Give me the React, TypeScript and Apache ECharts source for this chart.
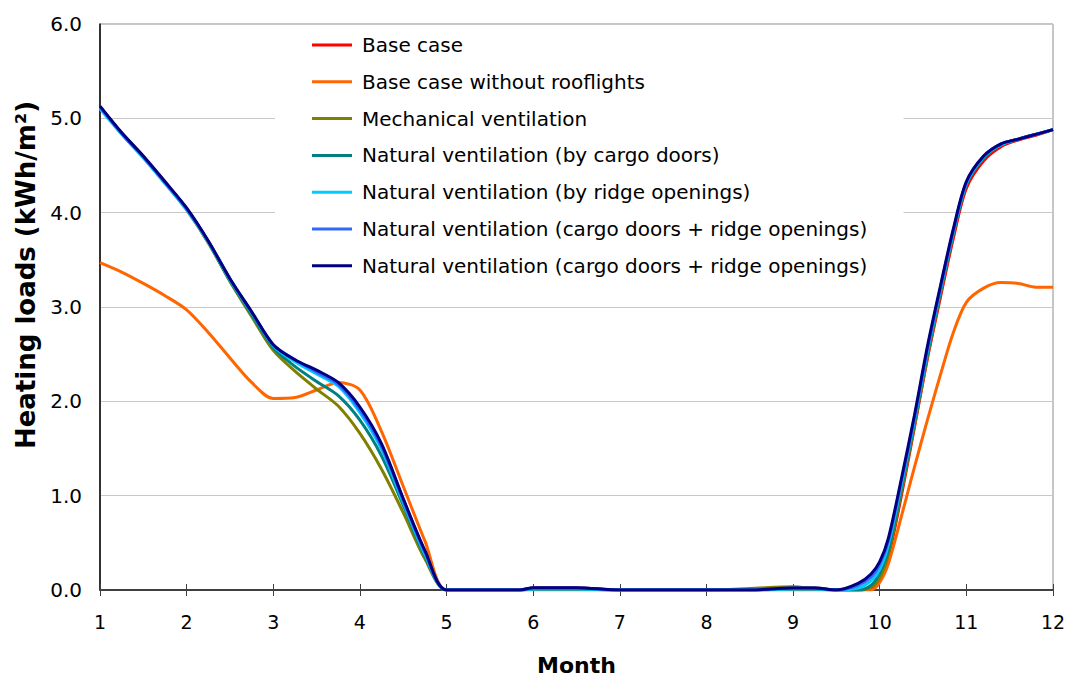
import React, { useEffect, useRef } from "react";
import * as echarts from "echarts";

const MONTHS = [1, 1.25, 1.5, 1.75, 2, 2.25, 2.5, 2.75, 3, 3.25, 3.5, 3.75, 4, 4.25, 4.5, 4.75, 5,
  5.5, 5.85, 6, 6.5, 7, 7.5, 8, 8.5, 9, 9.25, 9.5,
  9.75, 9.9, 10, 10.1, 10.25, 10.4, 10.55, 10.7, 10.85, 11, 11.2, 11.4, 11.6, 11.8, 12];

const BASE_CASE = [5.12, 4.84, 4.59, 4.32, 4.04, 3.69, 3.29, 2.94, 2.59, 2.43, 2.32, 2.19, 1.92, 1.53, 0.96, 0.41, 0,
  0, 0, 0.02, 0.02, 0, 0, 0, 0, 0.02, 0.02, 0,
  0, 0.02, 0.1, 0.35, 1.0, 1.72, 2.45, 3.1, 3.73, 4.26, 4.55, 4.7, 4.77, 4.82, 4.88];

const NO_ROOFLIGHTS = [3.47, 3.37, 3.25, 3.12, 2.97, 2.73, 2.46, 2.2, 2.03, 2.04, 2.12, 2.2, 2.12, 1.68, 1.1, 0.52, 0,
  0, 0, 0, 0, 0, 0, 0, 0, 0, 0, 0,
  0, 0, 0.08, 0.28, 0.78, 1.3, 1.8, 2.28, 2.73, 3.05, 3.2, 3.26, 3.25, 3.21, 3.21];

const MECHANICAL = [5.12, 4.84, 4.59, 4.32, 4.03, 3.68, 3.27, 2.9, 2.54, 2.32, 2.13, 1.95, 1.66, 1.28, 0.82, 0.33, 0,
  0, 0, 0.01, 0.01, 0, 0, 0, 0.015, 0.035, 0.015, 0,
  0, 0.03, 0.13, 0.38, 1.04, 1.74, 2.47, 3.14, 3.77, 4.3, 4.58, 4.72, 4.78, 4.83, 4.88];

const NV_CARGO = [5.12, 4.84, 4.59, 4.32, 4.04, 3.69, 3.28, 2.92, 2.57, 2.37, 2.21, 2.06, 1.8, 1.42, 0.9, 0.36, 0,
  0, 0, 0.01, 0.01, 0, 0, 0, 0, 0.01, 0.01, 0,
  0, 0.05, 0.18, 0.42, 1.08, 1.77, 2.5, 3.16, 3.78, 4.3, 4.58, 4.72, 4.78, 4.83, 4.88];

const NV_RIDGE = [5.1, 4.83, 4.58, 4.31, 4.03, 3.69, 3.29, 2.94, 2.59, 2.42, 2.29, 2.16, 1.88, 1.49, 0.93, 0.38, 0,
  0, 0, 0.01, 0.01, 0, 0, 0, 0, 0.01, 0.01, 0,
  0.02, 0.1, 0.22, 0.48, 1.12, 1.8, 2.53, 3.18, 3.8, 4.31, 4.59, 4.72, 4.78, 4.83, 4.88];

const NV_BOTH_A = [5.12, 4.84, 4.59, 4.32, 4.04, 3.7, 3.3, 2.95, 2.6, 2.44, 2.31, 2.18, 1.91, 1.52, 0.95, 0.4, 0,
  0, 0, 0.02, 0.02, 0, 0, 0, 0, 0.02, 0.02, 0,
  0.05, 0.14, 0.27, 0.52, 1.15, 1.82, 2.55, 3.2, 3.81, 4.32, 4.6, 4.73, 4.78, 4.83, 4.88];

const NV_BOTH_B = [5.13, 4.85, 4.6, 4.33, 4.05, 3.7, 3.3, 2.95, 2.6, 2.44, 2.33, 2.2, 1.94, 1.55, 0.97, 0.42, 0,
  0, 0, 0.025, 0.025, 0, 0, 0, 0, 0.02, 0.02, 0,
  0.07, 0.17, 0.3, 0.55, 1.18, 1.85, 2.58, 3.22, 3.83, 4.33, 4.6, 4.73, 4.78, 4.83, 4.88];

const SERIES = [
  { name: "Base case", color: "#FF0000", values: BASE_CASE },
  { name: "Base case without rooflights", color: "#FF6600", values: NO_ROOFLIGHTS },
  { name: "Mechanical ventilation", color: "#808000", values: MECHANICAL },
  { name: "Natural ventilation (by cargo doors)", color: "#008080", values: NV_CARGO },
  { name: "Natural ventilation (by ridge openings)", color: "#00CCFF", values: NV_RIDGE },
  { name: "Natural ventilation (cargo doors + ridge openings)", color: "#3366FF", values: NV_BOTH_A },
  { name: "Natural ventilation (cargo doors + ridge openings) ", color: "#000080", values: NV_BOTH_B },
];

const Y_TICKS = [0, 1, 2, 3, 4, 5, 6];
const X_TICKS = [1, 2, 3, 4, 5, 6, 7, 8, 9, 10, 11, 12];

const FONT = "'DejaVu Sans', sans-serif";

export default function App() {
  const ref = useRef<HTMLDivElement>(null);
  useEffect(() => {
    if (!ref.current) return;
    const chart = echarts.init(ref.current, undefined, { renderer: "svg" });
    const series = SERIES.map((s) => ({
      name: s.name,
      type: "line",
      xAxisIndex: 0,
      data: MONTHS.map((m, i) => [m, s.values[i]]),
      smooth: 0.3,
      showSymbol: false,
      symbol: "none",
      lineStyle: { color: s.color, width: 3 },
      itemStyle: { color: s.color },
      z: 3,
    }));
    chart.setOption({
      animation: false,
      backgroundColor: "#ffffff",
      textStyle: { fontFamily: FONT },
      grid: {
        left: 100, right: 18, top: 24, bottom: 92,
        show: true, borderColor: "#8c8c8c", borderWidth: 1, backgroundColor: "transparent",
      },
      legend: {
        orient: "vertical",
        left: 275,
        top: 25,
        padding: [10, 30, 14, 37],
        backgroundColor: "#ffffff",
        itemWidth: 40,
        itemHeight: 3,
        itemGap: 16.8,
        icon: "rect",
        z: 10,
        textStyle: { fontFamily: FONT, fontSize: 20, color: "#000", lineHeight: 20, padding: [0, 0, 0, 5] },
        data: SERIES.map((s) => s.name),
      },
      xAxis: [
        {
          type: "value",
          min: 1, max: 12, interval: 1,
          position: "bottom",
          name: "Month",
          nameLocation: "middle",
          nameGap: 64,
          nameTextStyle: { fontFamily: FONT, fontSize: 22, fontWeight: "bold", color: "#000" },
          axisLine: { show: true, onZero: false, lineStyle: { color: "#404040", width: 2 } },
          axisTick: { show: true, length: 6, lineStyle: { color: "#404040", width: 1 } },
          axisLabel: { fontFamily: FONT, fontSize: 19, color: "#000", margin: 22, formatter: (v: number) => (X_TICKS.includes(v) ? String(v) : "") },
          splitLine: { show: false },
        },
        {
          type: "value",
          min: 1, max: 12, interval: 1,
          position: "bottom",
          axisLine: { show: false },
          axisTick: { show: true, inside: true, length: 6, lineStyle: { color: "#404040", width: 1 } },
          axisLabel: { show: false },
          splitLine: { show: false },
        },
      ],
      yAxis: {
        type: "value",
        min: 0, max: 6, interval: 1,
        name: "Heating loads (kWh/m²)",
        nameLocation: "middle",
        nameGap: 57,
        nameTextStyle: { fontFamily: FONT, fontSize: 26, fontWeight: "bold", color: "#000", padding: [0, 0, 0, 64] },
        axisLine: { show: true, lineStyle: { color: "#000", width: 1.5 } },
        axisTick: { show: false },
        axisLabel: {
          fontFamily: FONT, fontSize: 20, color: "#000", margin: 18,
          formatter: (v: number) => (Y_TICKS.includes(v) ? v.toFixed(1) : ""),
        },
        splitLine: { show: true, lineStyle: { color: "#c8c8c8", width: 1 } },
      },
      series,
    });
    return () => chart.dispose();
  }, []);
  return <div ref={ref} style={{ position: "fixed", left: 0, top: 0, width: 1071, height: 682 }} />;
}
